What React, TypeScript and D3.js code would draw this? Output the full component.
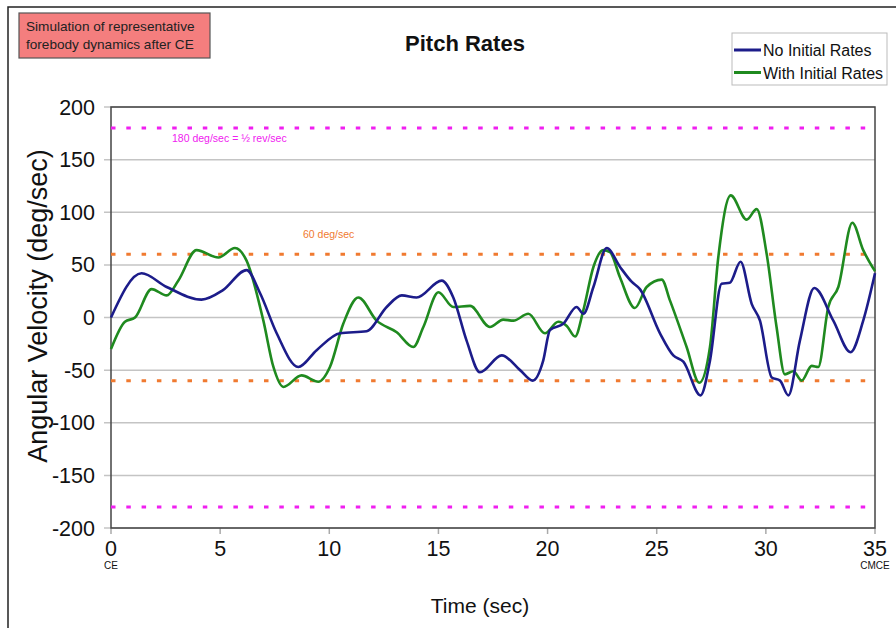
import React from "react";
import * as d3 from "d3";

const noInitT = [0, 1.4, 2.55, 4.15, 5.13, 6.21, 6.83, 7.59, 8.58, 9.42, 10.49, 11.71, 12.63, 13.32, 14.0, 15.15, 15.68, 16.29, 16.9, 17.9, 18.74, 19.32, 19.8, 20.11, 20.72, 21.33, 21.64, 22.1, 22.71, 23.32, 23.85, 24.23, 25.15, 25.76, 26.22, 27.01, 27.44, 27.97, 28.35, 28.84, 29.35, 29.73, 30.27, 30.65, 31.03, 31.56, 32.22, 33.09, 33.88, 34.46, 35];
const noInitV = [0, 42, 29, 17, 26, 45, 23, -15, -47, -31, -15, -13, 10, 21, 19, 35, 19, -22, -52, -36, -50, -60, -41, -12, -6, 10, 3.5, 29, 66, 48, 34, 27, -15, -36, -42, -74, -41, 32, 33, 53, 13, -3, -57, -60, -74, -22, 28, -3, -33, -3, 42];

const withInitT = [0, 0.64, 1.1, 1.86, 2.55, 3.08, 3.92, 4.92, 5.68, 6.21, 6.98, 7.44, 7.9, 8.73, 9.5, 10.03, 10.64, 11.33, 12.17, 13.09, 13.85, 14.31, 15.0, 15.68, 16.45, 17.36, 17.97, 18.43, 19.12, 19.88, 20.49, 20.88, 21.26, 21.64, 22.1, 22.55, 22.86, 23.32, 24.0, 24.54, 25.23, 25.61, 26.37, 26.95, 27.44, 27.82, 28.39, 29.12, 29.58, 30.04, 30.49, 30.87, 31.26, 31.64, 32.1, 32.4, 32.86, 33.32, 33.96, 34.46, 35];
const withInitV = [-30, -4, 0, 27, 21, 35, 64, 57, 66, 54, -3, -47, -66, -55, -61, -47, -6, 19, -3, -14, -28, -9, 24, 10, 11, -9, -2, -3, 3.5, -15, -4, -8, -18, 7, 48, 64, 62, 38, 9, 29, 36, 16, -28, -62, -28, 57, 116, 93, 103, 60, -9, -54, -51, -60, -46, -47, 10, 29, 90, 64, 44];

const seriesNames = ["No Initial Rates", "With Initial Rates"];
const yTicks = [-200, -150, -100, -50, 0, 50, 100, 150, 200];
const xTicks = [0, 5, 10, 15, 20, 25, 30, 35];
const limitMagenta = [180, -180];
const limitOrange = [60, -60];

export default function App() {
  const x = d3.scaleLinear().domain([0, 35]).range([111, 875]);
  const y = d3.scaleLinear().domain([-200, 200]).range([528, 107]);
  const line = d3
    .line<[number, number]>()
    .x((d) => x(d[0]))
    .y((d) => y(d[1]))
    .curve(d3.curveMonotoneX);
  const blue = noInitT.map((t, i) => [t, noInitV[i]] as [number, number]);
  const green = withInitT.map((t, i) => [t, withInitV[i]] as [number, number]);
  const font = "Liberation Sans, Arial, sans-serif";
  const blueC = "#1c1c8a";
  const greenC = "#1f8a1f";
  const magenta = "#f020f0";
  const orange = "#f07a30";

  return (
    <svg
      width={896}
      height={628}
      style={{ position: "absolute", left: 0, top: 0 }}
      fontFamily={font}
    >
      <rect x={0} y={0} width={896} height={628} fill="#fff" />
      <rect x={8} y={7} width={900} height={640} fill="none" stroke="#222" strokeWidth={1.5} />
      {/* red note */}
      <rect x={19} y={13} width={191} height={45} fill="#f47e7e" stroke="#555" strokeWidth={1.2} />
      <text x={26} y={31} fontSize={13.6} fill="#222">Simulation of representative</text>
      <text x={26} y={49} fontSize={13.6} fill="#222">forebody dynamics after CE</text>
      {/* title */}
      <text x={465} y={51} fontSize={22} fontWeight="bold" textAnchor="middle" fill="#111">Pitch Rates</text>
      {/* legend */}
      <rect x={732} y={33} width={155} height={52} fill="#fff" stroke="#bbb" strokeWidth={1} />
      {seriesNames.map((n, i) => (
        <g key={n}>
          <line x1={734} x2={761} y1={50 + i * 22.5} y2={50 + i * 22.5} stroke={i === 0 ? blueC : greenC} strokeWidth={3} />
          <text x={763} y={56 + i * 22.5} fontSize={16} fill="#111">{n}</text>
        </g>
      ))}
      {/* gridlines and y ticks */}
      {yTicks.map((v) => (
        <g key={v}>
          <line x1={104} x2={875} y1={y(v)} y2={y(v)} stroke="#c4c4c4" strokeWidth={1.5} />
          <text x={95} y={y(v) + 7.5} fontSize={21.5} textAnchor="end" fill="#111">{v}</text>
        </g>
      ))}
      {xTicks.map((t) => (
        <g key={t}>
          <line x1={x(t)} x2={x(t)} y1={528} y2={534} stroke="#aaa" strokeWidth={1.5} />
          <text x={x(t)} y={556} fontSize={21.5} textAnchor="middle" fill="#111">{t}</text>
        </g>
      ))}
      <text x={x(0)} y={569} fontSize={10} textAnchor="middle" fill="#111">CE</text>
      <text x={x(35)} y={569} fontSize={10} textAnchor="middle" fill="#111">CMCE</text>
      {/* plot frame */}
      <rect x={111} y={107} width={764} height={421} fill="none" stroke="#444" strokeWidth={1.5} />
      {/* limits */}
      {limitMagenta.map((v) => (
        <line key={"m" + v} x1={111} x2={875} y1={y(v)} y2={y(v)} stroke={magenta} strokeWidth={3} strokeDasharray="4.5 10.8" />
      ))}
      {limitOrange.map((v) => (
        <line key={"o" + v} x1={111} x2={875} y1={y(v)} y2={y(v)} stroke={orange} strokeWidth={3} strokeDasharray="4.5 10.8" />
      ))}
      <text x={172} y={142} fontSize={10.5} fill={magenta}>180 deg/sec = ½ rev/sec</text>
      <text x={303} y={238} fontSize={10.5} fill={orange}>60 deg/sec</text>
      {/* series */}
      <path d={line(green) ?? ""} fill="none" stroke={greenC} strokeWidth={2.6} />
      <path d={line(blue) ?? ""} fill="none" stroke={blueC} strokeWidth={2.6} />
      {/* axis titles */}
      <text x={480} y={613} fontSize={21} textAnchor="middle" fill="#111">Time (sec)</text>
      <text transform={`translate(47,${306}) rotate(-90)`} fontSize={27} textAnchor="middle" fill="#111">Angular Velocity (deg/sec)</text>
    </svg>
  );
}
